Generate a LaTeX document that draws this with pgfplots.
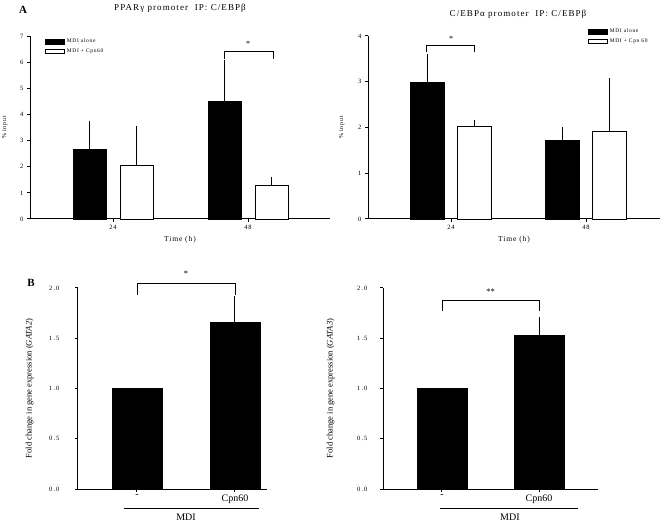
\documentclass[border=0pt]{standalone}
\usepackage{pgfplots}
\pgfplotsset{compat=1.18}
\usepackage{fontspec}
\setmainfont{Liberation Serif}
\newfontfamily\spaced[LetterSpace=12]{Liberation Serif}
\pgfplotsset{
  base/.style={
    scale only axis, enlargelimits=false,
    axis x line*=bottom, axis y line*=left,
    axis line style={line width=1pt},
    every tick/.style={black, line width=1pt},
    tick align=outside, major tick length=3pt,
    /pgf/number format/assume math mode=true,
    clip=false,
    ylabel style={font=\spaced\fontsize{6}{7}\selectfont},
    xlabel style={font=\spaced\fontsize{7.5}{8}\selectfont},
    ticklabel style={font=\spaced\fontsize{6.5}{7}\selectfont},
    legend image code/.code={\draw[#1, line width=0.7pt] (0pt,-2.2pt) rectangle (19pt,2.2pt);},
  },
  barblack/.style={ybar, bar shift=0pt, fill=black, draw=black, line width=0.7pt,
    error bars/.cd, y dir=plus, y explicit,
    error bar style={line width=1pt, black},
    error mark options={line width=1pt, mark size=3.5pt, black}},
  barwhite/.style={ybar, bar shift=0pt, fill=white, draw=black, line width=0.9pt,
    error bars/.cd, y dir=plus, y explicit,
    error bar style={line width=1pt, black},
    error mark options={line width=1pt, mark size=3.5pt, black}},
  barplain/.style={ybar, bar shift=0pt, fill=black, draw=black, line width=0.7pt},
}
\begin{document}
\begin{tikzpicture}
\useasboundingbox (0pt,0pt) rectangle (669pt,522pt);
% ---------- A left
\begin{axis}[base, at={(30pt,303pt)}, anchor=south west, width=300pt, height=183pt,
  xmin=-0.615, xmax=1.607, ymin=0, ymax=7,
  xtick={0,1}, xticklabels={24,48}, ytick={0,1,...,7},
  bar width=0.244,
  xlabel={Time (h)}, ylabel={\% input},
  xlabel style={at={(axis description cs:0.5,0)}, anchor=north, yshift=-14pt},
  ylabel style={at={(axis description cs:0,0.5)}, anchor=south, yshift=19pt},
  legend style={at={(0.05,0.995)}, anchor=north west, draw=none, fill=none, inner sep=0pt,
    font=\spaced\fontsize{5.5}{6}\selectfont, row sep=0.5pt, cells={anchor=west}},
  legend cell align=left]
\addplot[barblack] coordinates {(-0.174,2.67) +- (0,0.96) (0.826,4.50) +- (0,1.43)};
\addlegendentry{MDI alone}
\addplot[barwhite] coordinates {(0.174,2.05) +- (0,1.38) (1.174,1.27) +- (0,0.21)};
\addlegendentry{MDI + Cpn60}
\draw[line width=0.6pt] (axis cs:0.826,6.12) -- (axis cs:0.826,6.42) -- (axis cs:1.185,6.42) -- (axis cs:1.185,6.12);
\node[font=\fontsize{8}{8}\selectfont] at (axis cs:1.0,6.68) {*};
\end{axis}
% ---------- A right
\begin{axis}[base, at={(368pt,303pt)}, anchor=south west, width=292pt, height=183pt,
  xmin=-0.615, xmax=1.548, ymin=0, ymax=4,
  xtick={0,1}, xticklabels={24,48}, ytick={0,1,...,4},
  bar width=0.25,
  xlabel={Time (h)}, ylabel={\% input},
  xlabel style={at={(axis description cs:0.5,0)}, anchor=north, yshift=-14pt},
  ylabel style={at={(axis description cs:0,0.5)}, anchor=south, yshift=20pt},
  legend style={at={(0.753,1.05)}, anchor=north west, draw=none, fill=none, inner sep=0pt,
    font=\spaced\fontsize{5.5}{6}\selectfont, row sep=0.5pt, cells={anchor=west}},
  legend cell align=left]
\addplot[barblack] coordinates {(-0.174,2.98) +- (0,0.55) (0.826,1.72) +- (0,0.21)};
\addlegendentry{MDI alone}
\addplot[barwhite] coordinates {(0.174,2.02) +- (0,0.07) (1.174,1.91) +- (0,1.09)};
\addlegendentry{MDI + Cpn 60}
\draw[line width=0.6pt] (axis cs:-0.18,3.64) -- (axis cs:-0.18,3.79) -- (axis cs:0.17,3.79) -- (axis cs:0.17,3.64);
\node[font=\fontsize{8}{8}\selectfont] at (axis cs:0,3.94) {*};
\end{axis}
% ---------- B left
\begin{axis}[base, at={(78pt,33pt)}, anchor=south west, width=189pt, height=201pt,
  xmin=-0.602, xmax=1.327, ymin=0, ymax=2,
  xtick={0,1}, xticklabels={-,Cpn60}, ytick={0,0.5,...,2},
  yticklabels={0\,.\,0,0\,.\,5,1\,.\,0,1\,.\,5,2\,.\,0},
  ticklabel style={font=\fontsize{6.5}{7}\selectfont},
  x tick label style={font=\fontsize{10}{10}\selectfont, yshift=1pt},
  y tick label style={xshift=-12pt},
  bar width=0.51,
  ylabel={Fold change in gene expression (\textit{GATA2})},
  ylabel style={font=\fontsize{8.5}{9}\selectfont, at={(axis description cs:0,0.5)}, yshift=41pt}]
\addplot[barplain] coordinates {(0,1.0)};
\addplot[barblack] coordinates {(1,1.66) +- (0,0.23)};
\draw[line width=0.6pt] (axis cs:0,1.93) -- (axis cs:0,2.05) -- (axis cs:1,2.05) -- (axis cs:1,1.93);
\node[font=\fontsize{8.5}{8}\selectfont] at (axis cs:0.5,2.14) {*};
\draw[line width=0.5pt] (axis cs:-0.13,-0.19) -- (axis cs:1.25,-0.19);
\node[font=\fontsize{10}{10}\selectfont] at (axis cs:0.5,-0.28) {MDI};
\end{axis}
% ---------- B right
\begin{axis}[base, at={(383pt,33pt)}, anchor=south west, width=215pt, height=201pt,
  xmin=-0.608, xmax=1.608, ymin=0, ymax=2,
  xtick={0,1}, xticklabels={-,Cpn60}, ytick={0,0.5,...,2},
  yticklabels={0\,.\,0,0\,.\,5,1\,.\,0,1\,.\,5,2\,.\,0},
  ticklabel style={font=\fontsize{6.5}{7}\selectfont},
  x tick label style={font=\fontsize{10}{10}\selectfont, yshift=1pt},
  y tick label style={xshift=-9pt},
  bar width=0.515,
  ylabel={Fold change in gene expression (\textit{GATA3})},
  ylabel style={font=\fontsize{8.5}{9}\selectfont, at={(axis description cs:0,0.5)}, yshift=45pt}]
\addplot[barplain] coordinates {(0,1.0)};
\addplot[barblack] coordinates {(1,1.53) +- (0,0.15)};
\draw[line width=0.6pt] (axis cs:0,1.77) -- (axis cs:0,1.88) -- (axis cs:1,1.88) -- (axis cs:1,1.77);
\node[font=\fontsize{8.5}{8}\selectfont] at (axis cs:0.5,1.96) {**};
\draw[line width=0.5pt] (axis cs:-0.02,-0.19) -- (axis cs:1.4,-0.19);
\node[font=\fontsize{10}{10}\selectfont] at (axis cs:0.7,-0.28) {MDI};
\end{axis}
% ---------- titles and panel letters
\node[font=\spaced\fontsize{9}{10}\selectfont] at (180pt,514pt) {PPARγ promoter\ \ IP: C/EBPβ};
\node[font=\spaced\fontsize{9}{10}\selectfont] at (518pt,508pt) {C/EBPα promoter\ \ IP: C/EBPβ};
\node[font=\bfseries\fontsize{11}{11}\selectfont] at (23pt,512pt) {A};
\node[font=\bfseries\fontsize{11}{11}\selectfont] at (31pt,239pt) {B};
\end{tikzpicture}
\end{document}
